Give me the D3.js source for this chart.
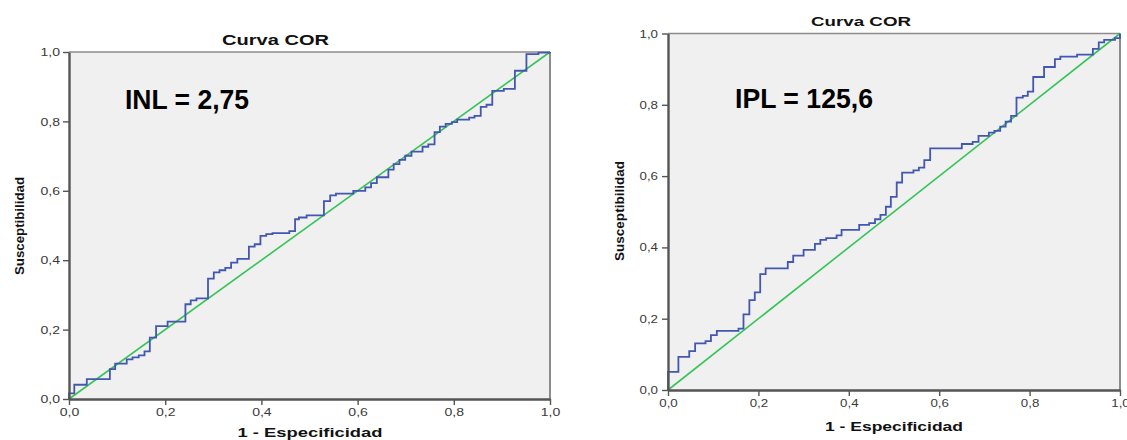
<!DOCTYPE html>
<html>
<head>
<meta charset="utf-8">
<script src="https://cdn.jsdelivr.net/npm/d3@7"></script>
<style>
  html, body { margin: 0; padding: 0; background: #ffffff; }
  svg { display: block; font-family: "Liberation Sans", Arial, sans-serif; }
</style>
</head>
<body>
<svg id="chart" width="1127" height="440"></svg>
<script>
// ---- data ----
const tickValues = [0, 0.2, 0.4, 0.6, 0.8, 1.0];
const tickLabels = ["0,0", "0,2", "0,4", "0,6", "0,8", "1,0"];
const chartTitle = "Curva COR";
const xAxisTitle = "1 - Especificidad";
const yAxisTitle = "Susceptibilidad";
const refLine = [[0, 0], [1, 1]];

// INL (left panel): 1 - specificity at each step, sensitivity after the step
const inlLabel = "INL = 2,75";
const inlFpr = [0, 0.000, 0.011, 0.037, 0.085, 0.096, 0.120, 0.132, 0.145, 0.157, 0.168, 0.181, 0.205,
  0.242, 0.253, 0.265, 0.289, 0.301, 0.313, 0.325, 0.337, 0.350, 0.374, 0.386, 0.398, 0.410, 0.423,
  0.458, 0.470, 0.478, 0.494, 0.530, 0.543, 0.555, 0.591, 0.616, 0.628, 0.640, 0.664, 0.675, 0.687,
  0.699, 0.712, 0.735, 0.747, 0.760, 0.771, 0.783, 0.796, 0.807, 0.832, 0.843, 0.856, 0.868, 0.880,
  0.904, 0.927, 0.951, 0.976, 1.000];
const inlTpr = [0, 0.016, 0.041, 0.057, 0.086, 0.102, 0.114, 0.120, 0.126, 0.137, 0.177, 0.210, 0.223,
  0.273, 0.284, 0.290, 0.347, 0.365, 0.371, 0.378, 0.393, 0.404, 0.439, 0.446, 0.470, 0.475, 0.478,
  0.484, 0.518, 0.523, 0.529, 0.570, 0.587, 0.592, 0.600, 0.610, 0.622, 0.639, 0.661, 0.677, 0.689,
  0.701, 0.713, 0.727, 0.734, 0.769, 0.785, 0.793, 0.798, 0.805, 0.811, 0.816, 0.842, 0.848, 0.888,
  0.894, 0.946, 0.994, 0.998, 1.000];

// IPL (right panel)
const iplLabel = "IPL = 125,6";
const iplFpr = [0, 0.000, 0.023, 0.047, 0.060, 0.083, 0.095, 0.108, 0.156, 0.167, 0.180, 0.192, 0.204,
  0.216, 0.265, 0.277, 0.300, 0.325, 0.337, 0.350, 0.373, 0.384, 0.423, 0.445, 0.458, 0.470, 0.482,
  0.493, 0.506, 0.518, 0.543, 0.555, 0.567, 0.580, 0.650, 0.674, 0.687, 0.710, 0.722, 0.735, 0.747,
  0.759, 0.771, 0.785, 0.796, 0.808, 0.832, 0.856, 0.868, 0.905, 0.940, 0.953, 0.965, 0.989, 1.000];
const iplTpr = [0, 0.051, 0.093, 0.109, 0.131, 0.137, 0.154, 0.166, 0.172, 0.212, 0.252, 0.274, 0.325,
  0.341, 0.359, 0.377, 0.393, 0.410, 0.421, 0.426, 0.434, 0.449, 0.463, 0.468, 0.479, 0.491, 0.514,
  0.542, 0.582, 0.610, 0.616, 0.624, 0.645, 0.678, 0.690, 0.696, 0.713, 0.722, 0.727, 0.739, 0.753,
  0.769, 0.820, 0.825, 0.837, 0.878, 0.906, 0.928, 0.935, 0.941, 0.957, 0.975, 0.982, 0.987, 1.000];

// ---- drawing ----
const svg = d3.select("#chart");
const FONT = '"Liberation Sans", Arial, sans-serif';

function drawPanel(cfg, fpr, tpr, label) {
  const x = d3.scaleLinear().domain([0, 1]).range([cfg.x0, cfg.x1]);
  const y = d3.scaleLinear().domain([0, 1]).range([cfg.y0, cfg.y1]);
  const g = svg.append("g");

  // plot background
  g.append("rect")
    .attr("x", x(0)).attr("y", y(1))
    .attr("width", x(1) - x(0)).attr("height", y(0) - y(1))
    .attr("fill", "#f0f0f0");

  // frame (top and right)
  g.append("line").attr("x1", x(0)).attr("x2", x(1)).attr("y1", y(1)).attr("y2", y(1))
    .attr("stroke", "#8c8c8c").attr("stroke-width", 1.6);
  g.append("line").attr("x1", x(1)).attr("x2", x(1)).attr("y1", y(1)).attr("y2", y(0))
    .attr("stroke", "#8c8c8c").attr("stroke-width", 2);

  // reference diagonal
  g.append("path")
    .datum(refLine)
    .attr("d", d3.line().x(d => x(d[0])).y(d => y(d[1])))
    .attr("fill", "none").attr("stroke", "#35c457").attr("stroke-width", 1.6);

  // ROC step curve
  const pts = fpr.map((v, i) => [v, tpr[i]]);
  g.append("path")
    .datum(pts)
    .attr("d", d3.line().x(d => x(d[0])).y(d => y(d[1])).curve(d3.curveStepAfter))
    .attr("fill", "none").attr("stroke", "#4356b0").attr("stroke-width", 1.8)
    .attr("stroke-linejoin", "miter");

  // axes
  const fmt = d => tickLabels[tickValues.indexOf(d)];
  const xAxis = g.append("g").attr("transform", `translate(0,${cfg.y0})`)
    .call(d3.axisBottom(x).tickValues(tickValues).tickFormat(fmt).tickSize(6).tickSizeOuter(0));
  const yAxis = g.append("g").attr("transform", `translate(${cfg.x0},0)`)
    .call(d3.axisLeft(y).tickValues(tickValues).tickFormat(fmt).tickSize(6).tickSizeOuter(0).tickPadding(cfg.yPad));
  [xAxis, yAxis].forEach(a => {
    a.select(".domain").attr("stroke", "#555").attr("stroke-width", 2.4);
    a.selectAll(".tick line").attr("stroke", "#555").attr("stroke-width", 1.4);
    a.selectAll(".tick text")
      .attr("font-family", FONT).attr("font-size", cfg.tickFont).attr("fill", "#3a3a3a")
      .attr("textLength", cfg.tickLen).attr("lengthAdjust", "spacingAndGlyphs");
  });

  // title
  svg.append("text")
    .attr("x", cfg.titleX).attr("y", cfg.titleY)
    .attr("font-family", FONT).attr("font-weight", "bold").attr("font-size", cfg.titleFont)
    .attr("fill", "#111")
    .attr("textLength", cfg.titleLen).attr("lengthAdjust", "spacingAndGlyphs")
    .text(chartTitle);

  // x axis title
  svg.append("text")
    .attr("x", cfg.xLabX).attr("y", cfg.xLabY)
    .attr("text-anchor", "middle")
    .attr("font-family", FONT).attr("font-weight", "bold").attr("font-size", cfg.labFont)
    .attr("fill", "#111")
    .attr("textLength", cfg.xLabLen).attr("lengthAdjust", "spacingAndGlyphs")
    .text(xAxisTitle);

  // y axis title
  svg.append("text")
    .attr("transform", `translate(${cfg.yLabX},${cfg.yLabY}) rotate(-90)`)
    .attr("text-anchor", "middle")
    .attr("font-family", FONT).attr("font-weight", "bold").attr("font-size", cfg.labFont)
    .attr("fill", "#111")
    .attr("textLength", cfg.yLabLen).attr("lengthAdjust", "spacingAndGlyphs")
    .text(yAxisTitle);

  // annotation
  svg.append("text")
    .attr("x", cfg.annX).attr("y", cfg.annY)
    .attr("font-family", FONT).attr("font-weight", "bold").attr("font-size", 28)
    .attr("fill", "#000")
    .attr("textLength", cfg.annLen).attr("lengthAdjust", "spacingAndGlyphs")
    .text(label);
}

drawPanel({
  x0: 69, x1: 550, y0: 399, y1: 52, yPad: 3,
  tickFont: 11.5, tickLen: 19.5,
  titleX: 222, titleY: 45, titleFont: 14, titleLen: 107,
  xLabX: 310, xLabY: 436.5, xLabLen: 145, labFont: 13.5,
  yLabX: 24, yLabY: 226, yLabLen: 98,
  annX: 125, annY: 109, annLen: 124
}, inlFpr, inlTpr, inlLabel);

drawPanel({
  x0: 668, x1: 1120, y0: 390, y1: 33.5, yPad: 4,
  tickFont: 11, tickLen: 18.5,
  titleX: 811, titleY: 26, titleFont: 13.5, titleLen: 100,
  xLabX: 894, xLabY: 431, xLabLen: 138, labFont: 13,
  yLabX: 624, yLabY: 211, yLabLen: 100,
  annX: 735, annY: 108, annLen: 138
}, iplFpr, iplTpr, iplLabel);
</script>
</body>
</html>
